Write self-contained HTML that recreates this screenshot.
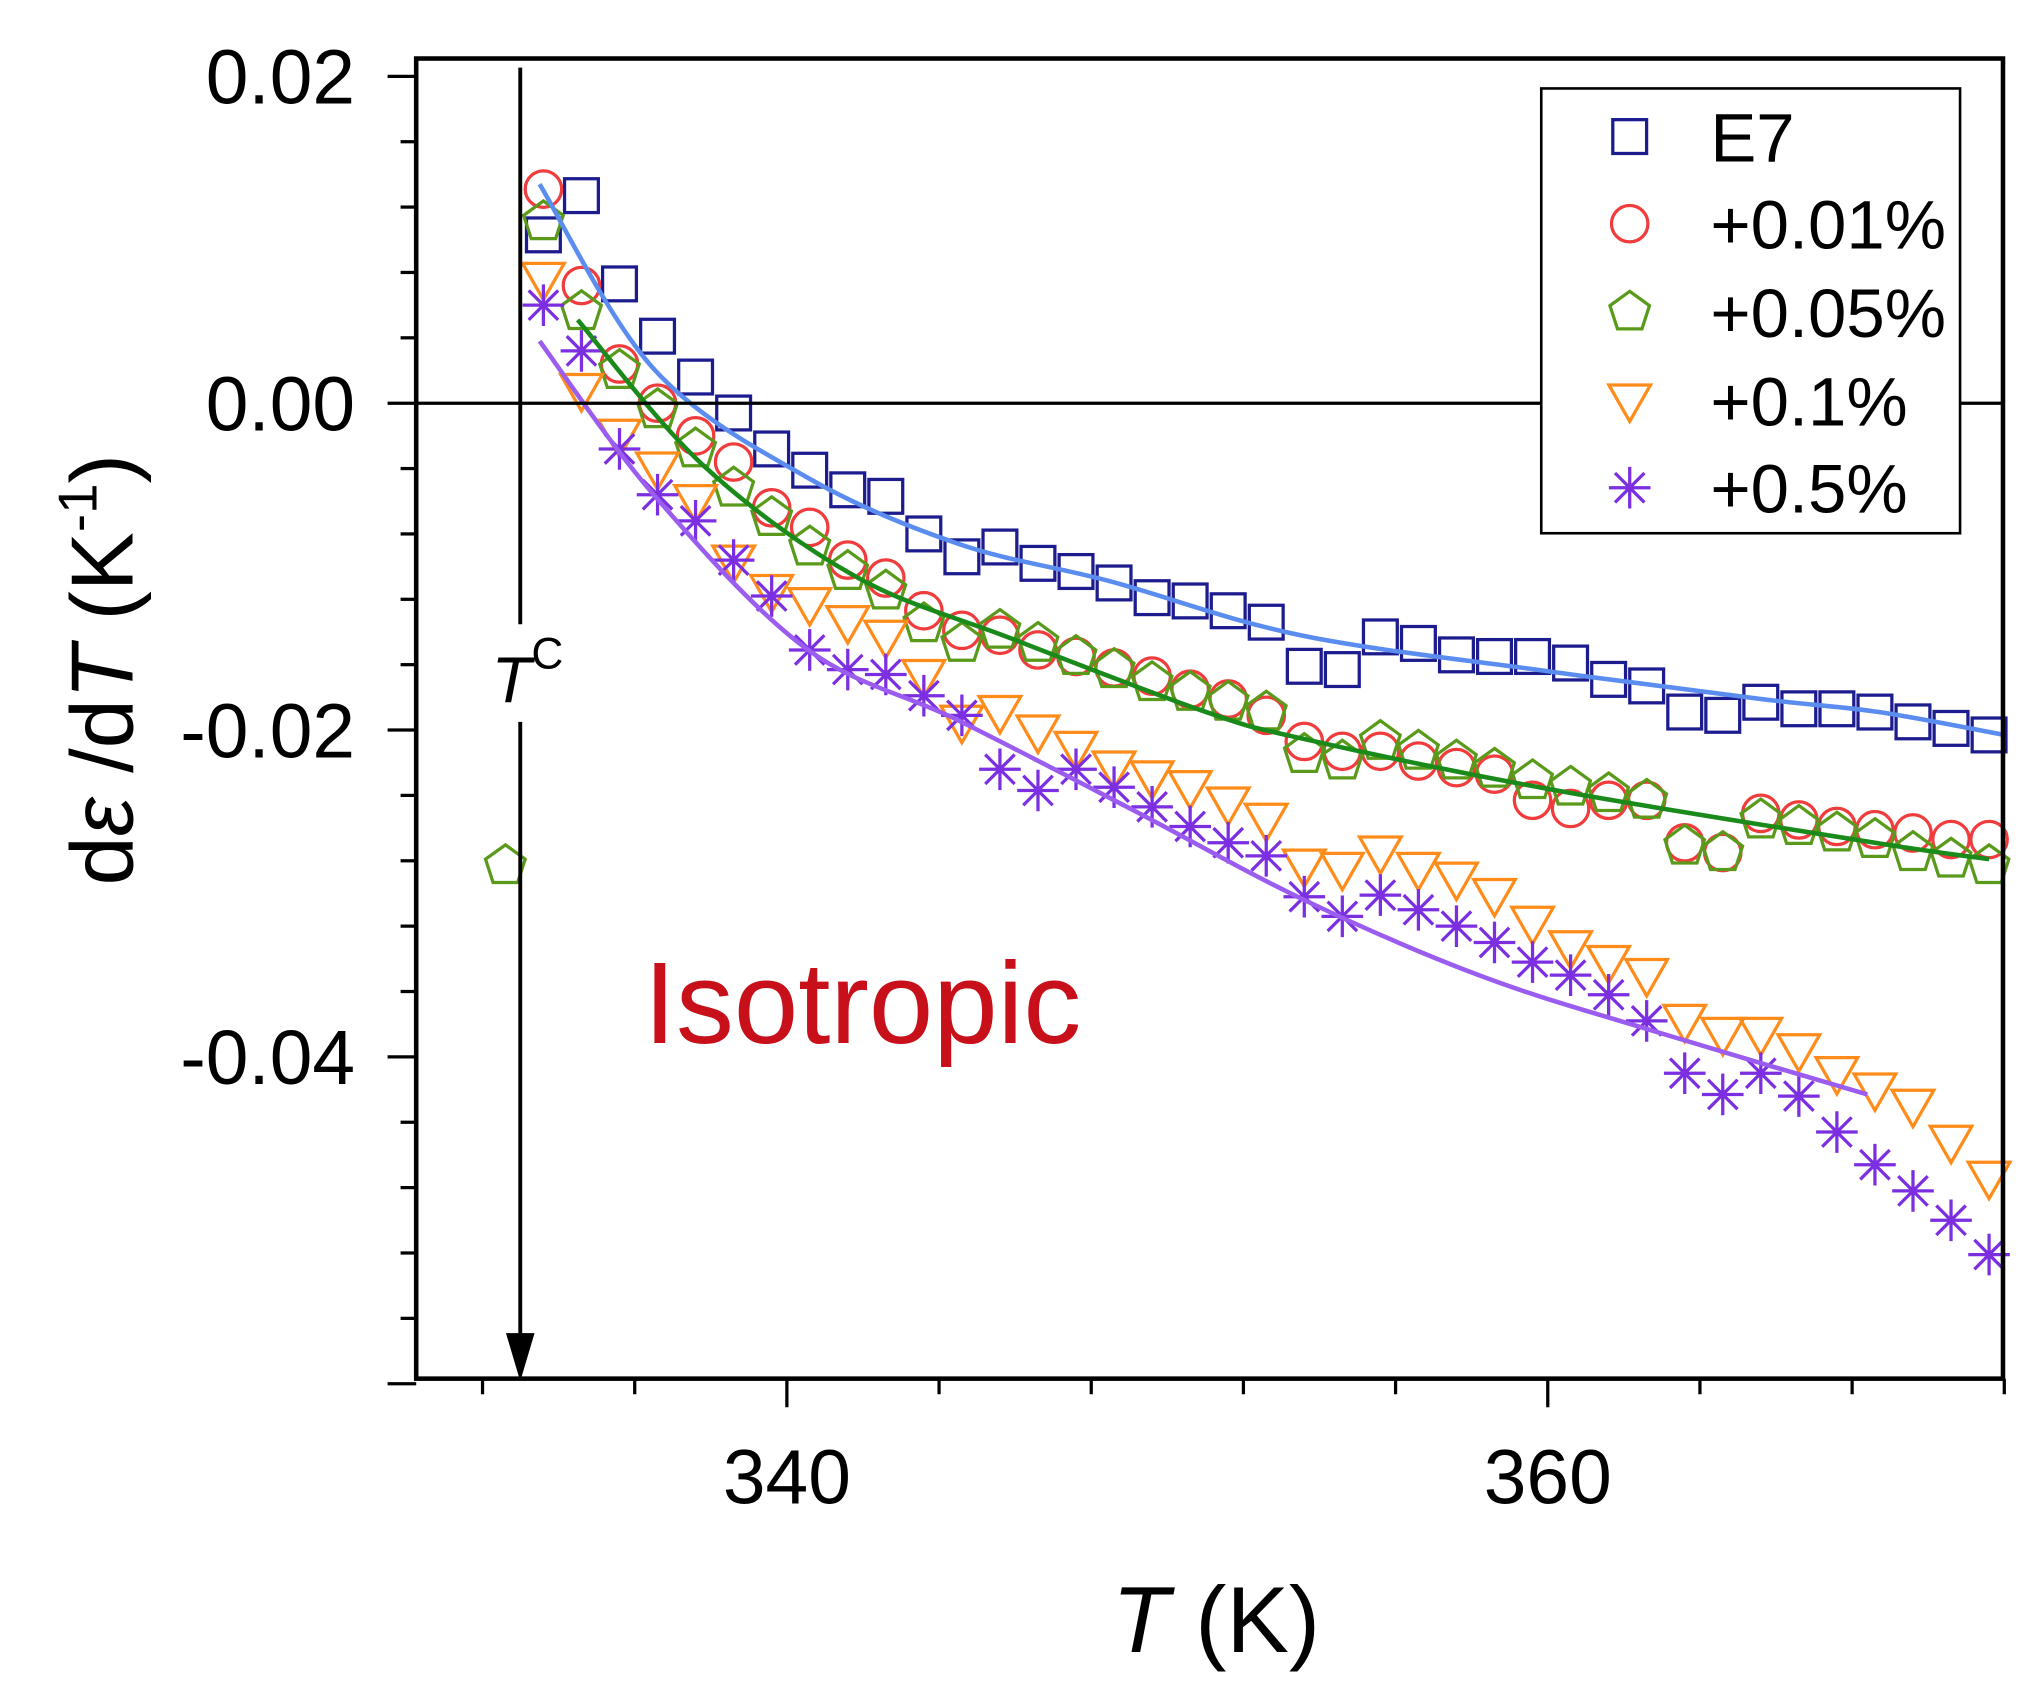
<!DOCTYPE html>
<html><head><meta charset="utf-8">
<style>
html,body{margin:0;padding:0;background:#fff;}
svg{display:block;font-family:"Liberation Sans",Arial,sans-serif;}
</style></head>
<body>
<svg id="chart" width="2029" height="1696" viewBox="0 0 1560 1304" preserveAspectRatio="none" xmlns="http://www.w3.org/2000/svg">
<rect x="0" y="0" width="1560" height="1304" fill="#fff"/>
<g id="marks"></g>
<g id="axes"></g>
</svg>
<script>
// Data (derivative values in units of 1e-3 K^-1)
const T0 = 333.6; // first temperature, spacing 1 K
const e7 = [10.3,12.7,7.3,4.1,1.6,-0.6,-2.8,-4.1,-5.3,-5.7,-8.0,-9.4,-8.8,-9.8,-10.3,-11.0,-11.9,-12.1,-12.7,-13.4,-16.1,-16.3,-14.3,-14.7,-15.4,-15.5,-15.5,-15.9,-16.9,-17.3,-18.9,-19.1,-18.3,-18.7,-18.7,-18.9,-19.5,-19.9,-20.3];
const p001 = [13.1,7.2,2.4,0,-2.0,-3.6,-6.4,-7.6,-9.6,-10.7,-12.7,-13.9,-14.2,-15.1,-15.5,-16.2,-16.7,-17.5,-18.1,-19.1,-20.7,-21.3,-21.3,-21.9,-22.3,-22.7,-24.3,-24.8,-24.3,-24.3,-26.9,-27.5,-25.1,-25.5,-25.9,-26.1,-26.3,-26.7,-26.7];
const p005 = [11.1,5.6,2.0,-0.4,-2.8,-5.2,-7.0,-8.8,-10.3,-11.5,-13.5,-14.7,-13.9,-14.7,-15.5,-16.3,-17.1,-17.7,-18.3,-18.9,-21.5,-21.9,-20.7,-21.3,-21.9,-22.4,-23.1,-23.5,-23.9,-24.3,-27.1,-27.5,-25.5,-25.9,-26.3,-26.7,-27.5,-27.9,-28.3];
const p005Outlier = {T:332.6, v:-28.3};
const p01 = [7.6,0.8,-2.0,-4.0,-6.0,-9.7,-11.5,-12.3,-13.4,-14.3,-16.7,-19.5,-18.9,-20.1,-21.1,-22.3,-22.9,-23.5,-24.5,-25.5,-28.3,-28.5,-27.5,-28.5,-29.1,-30.1,-31.8,-33.3,-34.2,-35.0,-37.8,-38.6,-38.6,-39.6,-41.0,-42.0,-43.0,-45.2,-47.4];
const p05 = [6.0,3.2,-2.8,-5.6,-7.2,-9.6,-11.8,-15.1,-16.3,-16.6,-17.9,-19.1,-22.4,-23.7,-22.4,-23.5,-24.7,-25.9,-26.9,-27.7,-30.2,-31.4,-30.1,-31.0,-32.0,-33.0,-34.2,-35.0,-36.2,-37.8,-41.0,-42.3,-41.0,-42.4,-44.6,-46.6,-48.2,-50.0,-52.1];
const fitBlueT = [333.5,336.5,340.5,344.5,348.5,353.5,360,365.6,368.7,372];
const fitBlueV = [13.4,2.1,-4.5,-8.6,-10.9,-14.2,-16.4,-18.1,-18.9,-20.3];
const fitGreenT = [334.5,337.8,341.8,345.9,350.9,353.5,360,368.6,371.6];
const fitGreenV = [5.1,-3.8,-10.6,-14.4,-18.8,-20.5,-23.6,-26.9,-27.9];
const fitPurpleT = [333.5,336.5,340.5,344.5,349.1,353.6,358.3,362.9,368.4];
const fitPurpleV = [3.8,-5.6,-15.0,-19.4,-24.9,-30.4,-35.1,-38.5,-42.3];
const xTickLabels = [340,360];
const yTickLabels = [0.02,0.00,-0.02,-0.04];

const NS="http://www.w3.org/2000/svg";
const L=320,R=1540,TOP=45,B=1060;
function xs(T){return 605+(T-340)*29.25;}
function ys(v){return 310-v*12.565;}
function mk(tag,attrs,parent){const e=document.createElementNS(NS,tag);for(const k in attrs)e.setAttribute(k,attrs[k]);parent.appendChild(e);return e;}
const marks=document.getElementById('marks'), axes=document.getElementById('axes');

function marker(type,x,y,color,parent){
  let e;
  if(type==='square'){e=mk('rect',{x:x-13,y:y-13,width:26,height:26,fill:'none',stroke:color,'stroke-width':2.5},parent);}
  else if(type==='circle'){e=mk('circle',{cx:x,cy:y,r:14,fill:'none',stroke:color,'stroke-width':2.5},parent);}
  else if(type==='pent'){let p=[];for(let i=0;i<5;i++){const a=-Math.PI/2+i*2*Math.PI/5;p.push((x+16*Math.cos(a)).toFixed(1)+','+(y+16*Math.sin(a)).toFixed(1));}
    e=mk('polygon',{points:p.join(' '),fill:'none',stroke:color,'stroke-width':2.5},parent);}
  else if(type==='tri'){e=mk('polygon',{points:`${x-16},${y-12} ${x+16},${y-12} ${x},${y+16}`,fill:'none',stroke:color,'stroke-width':2.5},parent);}
  else {let d='';for(let i=0;i<4;i++){const a=i*Math.PI/4;d+=`M${x-16*Math.cos(a)},${y-16*Math.sin(a)}L${x+16*Math.cos(a)},${y+16*Math.sin(a)}`;}
    e=mk('path',{d:d,stroke:color,'stroke-width':2.5,fill:'none'},parent);}
  return e;
}
function series(arr,type,color,name){
  const g=mk('g',{},marks);
  
  
  arr.forEach((v,i)=>{const m=marker(type,xs(T0+i),ys(v),color,g);
    
    });
  return g;
}
function smooth(Ts,Vs){const P=Ts.map((t,i)=>[xs(t),ys(Vs[i])]);let d=`M${P[0][0]},${P[0][1]}`;
  for(let i=0;i<P.length-1;i++){const p0=P[Math.max(0,i-1)],p1=P[i],p2=P[i+1],p3=P[Math.min(P.length-1,i+2)];
    d+=`C${p1[0]+(p2[0]-p0[0])/6},${p1[1]+(p2[1]-p0[1])/6} ${p2[0]-(p3[0]-p1[0])/6},${p2[1]-(p3[1]-p1[1])/6} ${p2[0]},${p2[1]}`;}
  return d;}
function fit(Ts,Vs,color,name){const e=mk('path',{d:smooth(Ts,Vs),fill:'none',stroke:color,'stroke-width':3.5},marks);
  
  }

const z=mk('line',{x1:L,x2:R,y1:ys(0),y2:ys(0),stroke:'#000','stroke-width':2.5},axes);



series(e7,'square','#1c1c8f','series-e7');
series(p001,'circle','#f03c3c','series-0.01');
series(p005,'pent','#5a9a1a','series-0.05');
const om=marker('pent',xs(p005Outlier.T),ys(p005Outlier.v),'#5a9a1a',marks);


series(p01,'tri','#ff8c1a','series-0.1');
series(p05,'star','#7b2fe0','series-0.5');
fit(fitBlueT,fitBlueV,'#5b8cf0','fit-e7');
fit(fitGreenT,fitGreenV,'#1a8a1a','fit-0.05');
fit(fitPurpleT,fitPurpleV,'#9b5cf0','fit-0.5');

const fr=mk('rect',{x:L,y:TOP,width:R-L,height:B-TOP,fill:'none',stroke:'#000','stroke-width':3.5},axes);


for(let v=20;v>=-60;v-=4){const maj=Math.abs(v%20)<0.01;
  const t=mk('line',{x1:L,x2:L-(maj?22:12),y1:ys(v),y2:ys(v),stroke:'#000','stroke-width':2.5},axes);
  
  }
yTickLabels.forEach(v=>{const t=mk('text',{x:273,y:ys(v*1000)+21,'text-anchor':'end','font-size':59},axes);
  t.textContent=v.toFixed(2);
  
  });
for(let T=332;T<=372;T+=4){const maj=(T%20===0);
  const t=mk('line',{x1:xs(T),x2:xs(T),y1:B,y2:B+(maj?22:12),stroke:'#000','stroke-width':2.5},axes);
  
  }
xTickLabels.forEach(T=>{const t=mk('text',{x:xs(T),y:1156,'text-anchor':'middle','font-size':59},axes);
  t.textContent=T;
  
  });
</script>
<svg style="position:absolute;left:0;top:0" width="2029" height="1696" viewBox="0 0 1560 1304" preserveAspectRatio="none" xmlns="http://www.w3.org/2000/svg" font-family="Liberation Sans, Arial, sans-serif">
<g transform="translate(102,515) rotate(-90)">
<text text-anchor="middle" font-size="68">d<tspan font-style="italic">ε</tspan> /d<tspan font-style="italic">T</tspan>  (K<tspan font-size="42" dy="-28">-1</tspan><tspan dy="28">)</tspan></text>
</g>
<text x="935" y="1270" text-anchor="middle" font-size="72"><tspan font-style="italic">T</tspan>  (K)</text>
<g>
<line x1="400" y1="52" x2="400" y2="480" stroke="#000" stroke-width="3"/>
<line x1="400" y1="555" x2="400" y2="1040" stroke="#000" stroke-width="3"/>
<polygon points="389,1025 411,1025 400,1062" fill="#000"/>
<text x="378" y="540" font-size="50" font-style="italic">T<tspan font-size="34" dy="-26" font-style="normal">C</tspan></text>
</g>
<text x="495" y="802" font-size="89" fill="#c8101a">Isotropic</text>
<g>
<rect x="1185" y="68" width="322" height="342" fill="#fff" stroke="#000" stroke-width="2"/>
<g><rect x="1240" y="92" width="26" height="26" fill="none" stroke="#1c1c8f" stroke-width="2.5"/><text x="1315" y="124" font-size="53">E7</text></g>
<g><circle cx="1253" cy="172" r="14" fill="none" stroke="#f03c3c" stroke-width="2.5"/><text x="1315" y="191" font-size="53">+0.01%</text></g>
<g><polygon points="1253,224 1268.2,235 1262.4,252.9 1243.6,252.9 1237.8,235" fill="none" stroke="#5a9a1a" stroke-width="2.5"/><text x="1315" y="259" font-size="53">+0.05%</text></g>
<g><polygon points="1237,296 1269,296 1253,324" fill="none" stroke="#ff8c1a" stroke-width="2.5"/><text x="1315" y="327" font-size="53">+0.1%</text></g>
<g><path d="M1237,375L1269,375M1253,359L1253,391M1241.7,363.7L1264.3,386.3M1241.7,386.3L1264.3,363.7" stroke="#7b2fe0" stroke-width="2.5"/><text x="1315" y="394" font-size="53">+0.5%</text></g>
</g>
</svg>
</body></html>
